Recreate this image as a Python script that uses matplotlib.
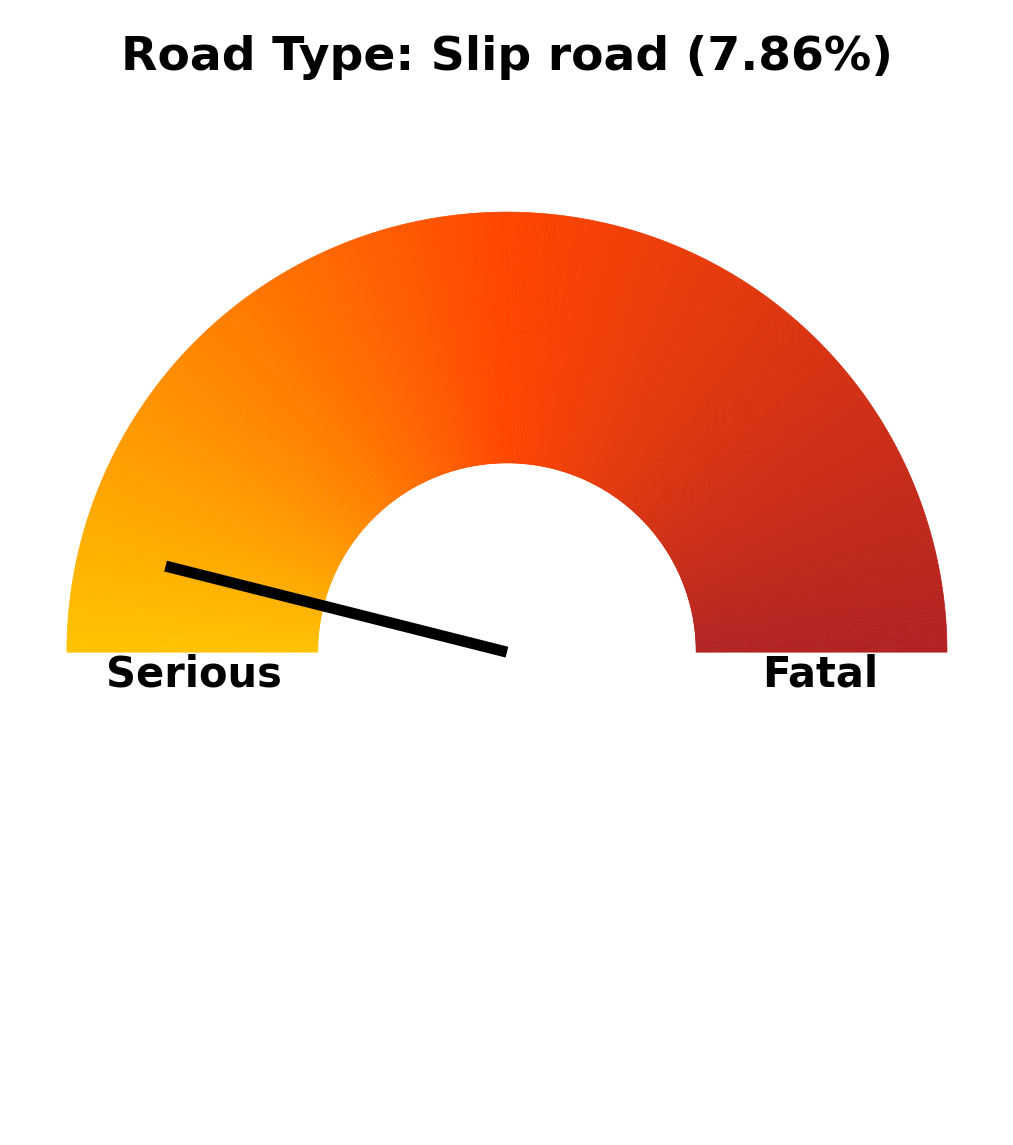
import numpy as np
import matplotlib
matplotlib.use("Agg")
import matplotlib.pyplot as plt
from matplotlib.patches import Wedge
from matplotlib.colors import LinearSegmentedColormap

title = "Road Type: Slip road (7.86%)"
value_pct = 7.86
left_label = "Serious"
right_label = "Fatal"
gauge_colors = ["#FFC300", "#FF4500", "#B22222"]

cmap = LinearSegmentedColormap.from_list("gauge", gauge_colors)

fig = plt.figure(figsize=(10.13, 11.45), dpi=100)
ax = fig.add_axes([0, 0, 1, 1])
ax.set_xlim(-1.152, 1.15)
ax.set_ylim(-1.12, 1.482)
ax.set_aspect("equal")
ax.axis("off")

n = 500
edges = np.linspace(180, 0, n + 1)
for i in range(n):
    ax.add_patch(Wedge((0, 0), 1.0, edges[i + 1], edges[i], width=0.57,
                       facecolor=cmap(i / (n - 1)), edgecolor=cmap(i / (n - 1)),
                       lw=0.5))

ang = np.deg2rad(180 - value_pct / 100 * 180)
ax.plot([0, 0.8 * np.cos(ang)], [0, 0.8 * np.sin(ang)], color="black",
        lw=8, solid_capstyle="butt")

ax.text(-0.712, -0.05, left_label, fontsize=30, fontweight="bold",
        ha="center", va="center")
ax.text(0.712, -0.05, right_label, fontsize=30, fontweight="bold",
        ha="center", va="center")
ax.text(0, 1.352, title, fontsize=34, fontweight="bold",
        ha="center", va="center")

fig.savefig("out.png", dpi=100)
